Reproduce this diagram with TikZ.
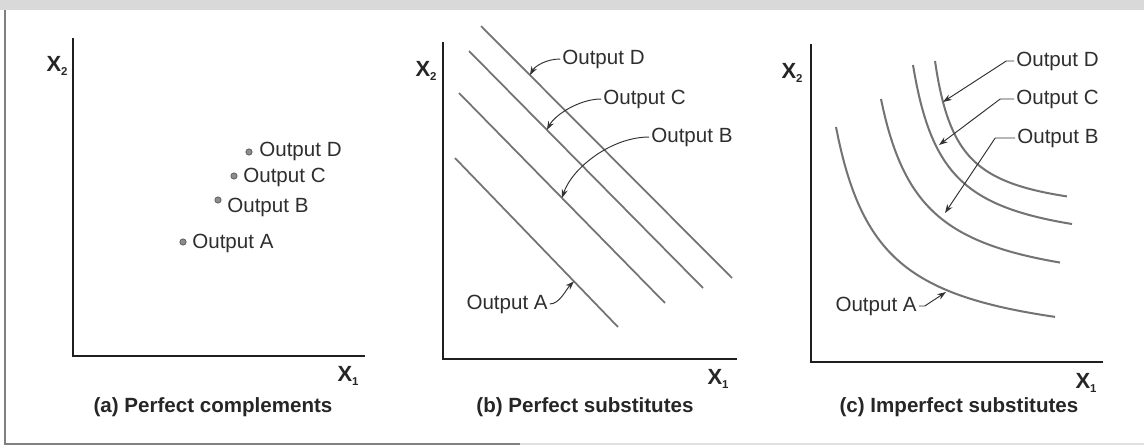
\documentclass[tikz,border=0pt]{standalone}
\usepackage{fontspec}
\setmainfont{Liberation Sans}
\usetikzlibrary{arrows.meta,calc}
\begin{document}
\begin{tikzpicture}[x=0.02cm,y=-0.02cm,
  axis/.style={line width=1.7pt, black!88},
  iso/.style={line width=1pt, black!55},
  isoc/.style={line width=1.15pt, black!55},
  lead/.style={line width=0.55pt, black!80, -{Stealth[length=5pt,width=3.5pt]}},
  lbl/.style={inner sep=0pt, font=\fontsize{11.7}{14}\selectfont, text=black!82},
  capt/.style={inner sep=0pt, font=\fontsize{11.7}{14}\selectfont\bfseries, text=black!85},
  axl/.style={inner sep=0pt, font=\fontsize{12.5}{14}\selectfont\bfseries, text=black!85},
  dot/.style={circle, fill=black!45, draw=black!65, line width=0.4pt, inner sep=0pt, minimum size=3.6pt}]
\useasboundingbox (0,0) rectangle (1144,447);
% frame
\fill[black!15] (0,0) rectangle (1144,10);
\draw[black!50, line width=0.8pt] (5,10) -- (5,444) -- (520,444);
\draw[black!12, line width=0.8pt] (520,444) -- (1144,444);
\newcommand{\xtwo}{X\raisebox{-0.35ex}{\fontsize{6.5}{7}\selectfont 2}}
\newcommand{\xone}{X\raisebox{-0.35ex}{\fontsize{6.5}{7}\selectfont 1}}
% ---------- panel a ----------
\coordinate (aY) at (73,38); \coordinate (aO) at (73,356); \coordinate (aX) at (365,356);
\draw[axis] (aY) -- (aO) -- (aX);
\node[axl] (aX2) at (57,66) {\xtwo};
\node[axl] (aX1) at (348,376) {\xone};
\node[capt] (acap) at (213,407) {(a) Perfect complements};
\node[dot] (pD) at (249,152) {};
\node[dot] (pC) at (234,176) {};
\node[dot] (pB) at (218,200) {};
\node[dot] (pA) at (183,242) {};
\node[lbl, anchor=west] (lD) at (259,151) {Output D};
\node[lbl, anchor=west] (lC) at (243,177) {Output C};
\node[lbl, anchor=west] (lB) at (227,207) {Output B};
\node[lbl, anchor=west] (lA) at (192,243) {Output A};
% ---------- panel b ----------
\coordinate (bY) at (443,42); \coordinate (bO) at (443,359); \coordinate (bX) at (737,359);
\draw[axis] (bY) -- (bO) -- (bX);
\node[axl] (bX2) at (426,71) {\xtwo};
\node[axl] (bX1) at (718,379) {\xone};
\node[capt] (bcap) at (585,407) {(b) Perfect substitutes};
\coordinate (d1) at (481,26);  \coordinate (d2) at (732,278);
\coordinate (c1) at (469,51);  \coordinate (c2) at (703,288);
\coordinate (b1) at (459,93);  \coordinate (b2) at (665,303);
\coordinate (a1) at (455,158); \coordinate (a2) at (618,327);
\draw[iso] (d1) -- (d2);
\draw[iso] (c1) -- (c2);
\draw[iso] (b1) -- (b2);
\draw[iso] (a1) -- (a2);
\coordinate (tbD) at ($(d1)!0.195!(d2)$);
\coordinate (tbC) at ($(c1)!0.333!(c2)$);
\coordinate (tbB) at ($(b1)!0.5!(b2)$);
\coordinate (tbA) at ($(a1)!0.73!(a2)$);
\node[lbl, anchor=west] (bD) at (562,59) {Output D};
\node[lbl, anchor=west] (bC) at (603,99) {Output C};
\node[lbl, anchor=west] (bB) at (651,137) {Output B};
\node[lbl, anchor=east] (bA) at (548,304) {Output A};
\draw[lead] ([xshift=-1pt]bD.west) .. controls +(-14,0) and +(5,-9) .. (tbD);
\draw[lead] ([xshift=-1pt]bC.west) .. controls +(-22,0) and +(8,-15) .. (tbC);
\draw[lead] ([xshift=-1pt]bB.west) .. controls +(-38,0) and +(10,-30) .. (tbB);
\draw[lead] ([xshift=1pt]bA.east) .. controls +(10,0) and +(-8,8) .. (tbA);
% ---------- panel c ----------
\coordinate (cY) at (811,44); \coordinate (cO) at (811,362); \coordinate (cX) at (1103,362);
\draw[axis] (cY) -- (cO) -- (cX);
\node[axl] (cX2) at (792,73) {\xtwo};
\node[axl] (cX1) at (1086,383) {\xone};
\node[capt] (ccap) at (959,407) {(c) Imperfect substitutes};
\draw[isoc] plot[domain=836:1055, samples=80] (\x, {355-10032/(\x-792)});
\draw[isoc] plot[domain=881:1060, samples=80] (\x, {300-8241/(\x-840)});
\draw[isoc] plot[domain=913:1072, samples=80] (\x, {255-5890/(\x-882)});
\draw[isoc] plot[domain=935:1067, samples=80] (\x, {220-3657/(\x-912)});
\coordinate (tcD) at (943,102);
\coordinate (tcC) at (939,145);
\coordinate (tcB) at (945,213);
\coordinate (tcA) at (946,292);
\node[lbl, anchor=west] (cD) at (1016,61) {Output D};
\node[lbl, anchor=west] (cC) at (1016,99) {Output C};
\node[lbl, anchor=west] (cB) at (1017,138) {Output B};
\node[lbl, anchor=east] (cA) at (917,306) {Output A};
\draw[lead] ([xshift=-1pt]cD.west) -- ++(-8,0) -- (tcD);
\draw[lead] ([xshift=-1pt]cC.west) -- ++(-14,0) -- (tcC);
\draw[lead] ([xshift=-1pt]cB.west) -- ++(-20,0) -- (tcB);
\draw[lead] ([xshift=1pt]cA.east) -- ++(6,0) -- (tcA);
\end{tikzpicture}
\end{document}
